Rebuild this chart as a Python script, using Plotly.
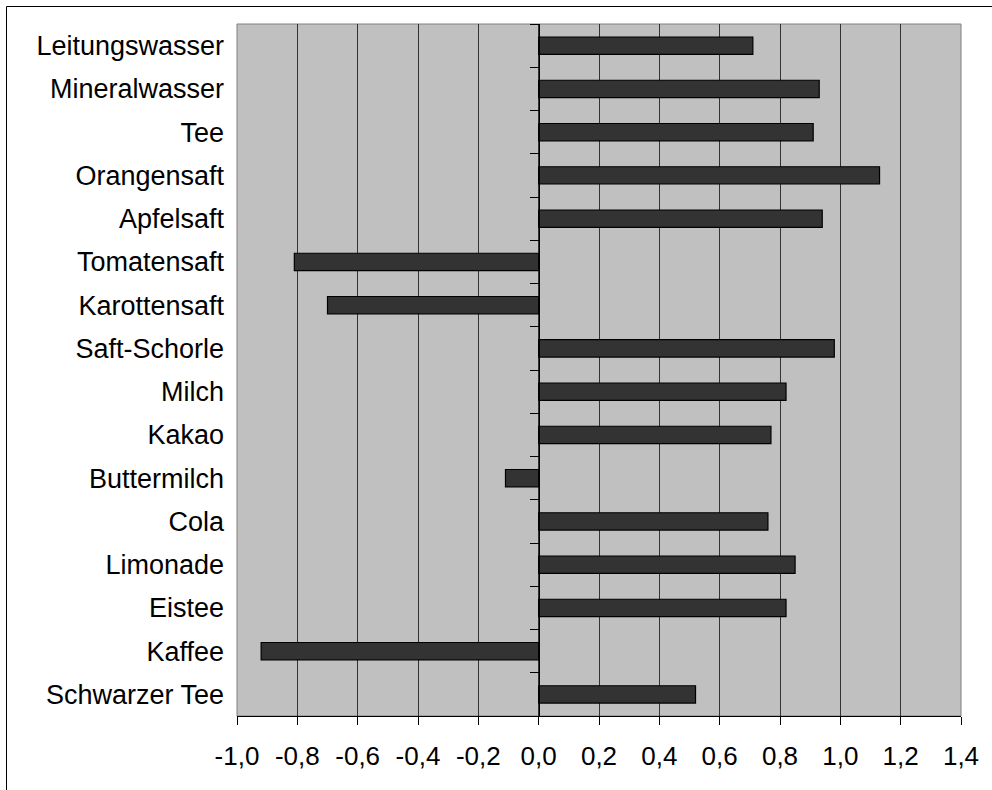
import plotly.graph_objects as go

# Getränke und ihre Werte (von oben nach unten)
drinks = [
    "Leitungswasser", "Mineralwasser", "Tee", "Orangensaft", "Apfelsaft",
    "Tomatensaft", "Karottensaft", "Saft-Schorle", "Milch", "Kakao",
    "Buttermilch", "Cola", "Limonade", "Eistee", "Kaffee", "Schwarzer Tee",
]
values = [
    0.71, 0.93, 0.91, 1.13, 0.94,
    -0.81, -0.70, 0.98, 0.82, 0.77,
    -0.11, 0.76, 0.85, 0.82, -0.92, 0.52,
]

x_ticks = [-1.0, -0.8, -0.6, -0.4, -0.2, 0.0, 0.2, 0.4, 0.6, 0.8, 1.0, 1.2, 1.4]
x_tick_text = ["-1,0", "-0,8", "-0,6", "-0,4", "-0,2", "0,0", "0,2",
               "0,4", "0,6", "0,8", "1,0", "1,2", "1,4"]

W, H = 992, 790
ML, MR, MT, MB = 237, 31, 24, 74
PW, PH = W - ML - MR, H - MT - MB
FONT = "Arial, 'Liberation Sans', sans-serif"


def px_x(p):
    return (p - ML) / PW


def px_y(p):
    return (H - MB - p) / PH


n = len(drinks)
boundaries = [i - 0.5 for i in range(n + 1)]

fig = go.Figure()
fig.add_trace(go.Bar(
    x=values, y=drinks, orientation="h",
    marker=dict(color="#333333", line=dict(color="#000000", width=1.2)),
    hoverinfo="x+y", showlegend=False,
))
# unsichtbare Hilfsspur, damit die Achse bei x = 0 gezeichnet wird
fig.add_trace(go.Scatter(
    x=[0], y=[0], yaxis="y2", mode="markers",
    marker=dict(opacity=0), hoverinfo="skip", showlegend=False,
))

fig.update_layout(
    width=W, height=H,
    margin=dict(l=ML, r=MR, t=MT, b=MB, pad=0),
    paper_bgcolor="#ffffff",
    plot_bgcolor="#c0c0c0",
    bargap=0.6,
    font=dict(family=FONT, color="#000000"),
    xaxis=dict(
        range=[-1.0, 1.4],
        tickvals=x_ticks, ticktext=x_tick_text,
        ticks="outside", ticklen=8, tickcolor="#000000", tickwidth=1,
        tickfont=dict(size=26, family=FONT, color="#000000"),
        ticklabelstandoff=9,
        showgrid=True, gridcolor="#333333", gridwidth=1,
        zeroline=False,
        showline=True, linecolor="#000000", linewidth=1,
        fixedrange=True,
    ),
    yaxis=dict(
        type="category", categoryorder="array", categoryarray=drinks,
        range=[n - 0.5, -0.5],
        ticks="", showgrid=False, zeroline=False, showline=False,
        tickfont=dict(size=27, family=FONT, color="#000000"),
        ticklabelstandoff=12,
        fixedrange=True,
    ),
    yaxis2=dict(
        overlaying="y", anchor="free", position=5 / 12, side="left",
        range=[n - 0.5, -0.5],
        tickvals=boundaries, showticklabels=False,
        ticks="outside", ticklen=9, tickcolor="#000000", tickwidth=1,
        showgrid=False, zeroline=False,
        showline=True, linecolor="#000000", linewidth=1,
        fixedrange=True,
    ),
    shapes=[
        # Rahmen der Zeichenfläche
        dict(type="rect", xref="paper", yref="paper", x0=0, x1=1, y0=0, y1=1,
             line=dict(color="#808080", width=1), layer="below"),
        # äußerer Diagrammrahmen (oben und links)
        dict(type="line", xref="paper", yref="paper",
             x0=px_x(6.5), x1=px_x(W + 5), y0=px_y(6.5), y1=px_y(6.5),
             line=dict(color="#000000", width=1)),
        dict(type="line", xref="paper", yref="paper",
             x0=px_x(6.5), x1=px_x(6.5), y0=px_y(6.5), y1=px_y(H + 5),
             line=dict(color="#000000", width=1)),
    ],
)

fig.write_html("out.html")
